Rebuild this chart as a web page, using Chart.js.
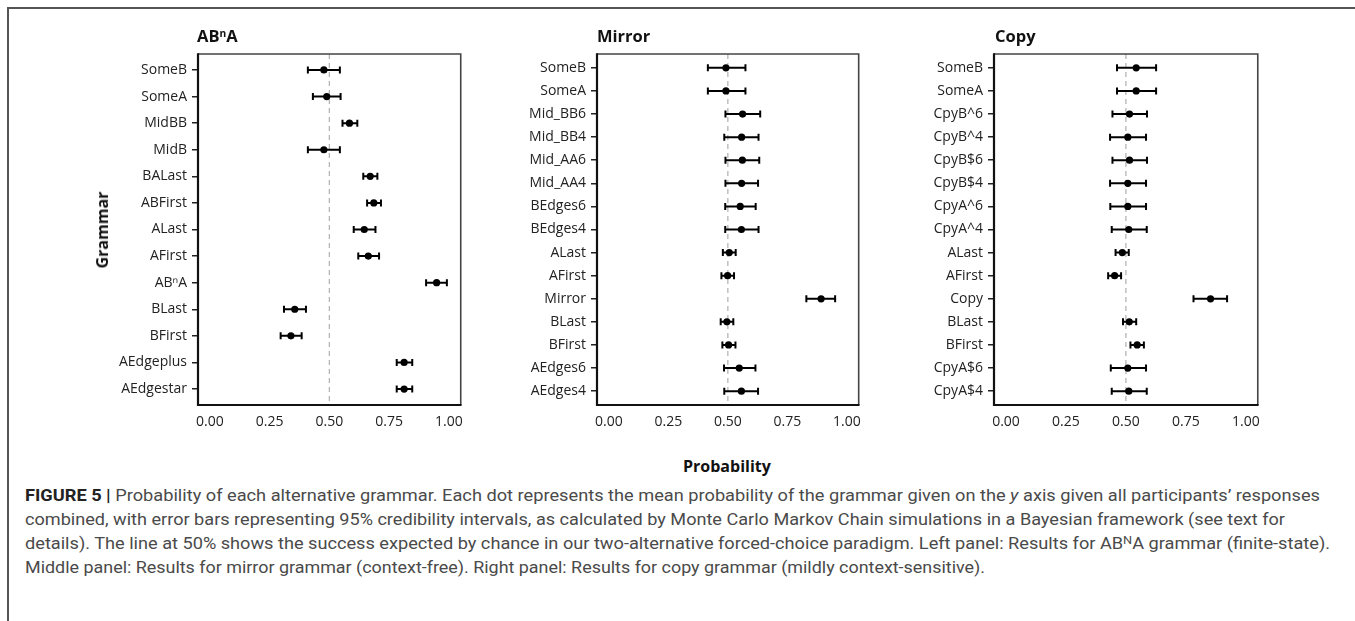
<!DOCTYPE html>
<html><head><meta charset="utf-8">
<script src="https://cdn.jsdelivr.net/npm/chart.js@4.4.0/dist/chart.umd.min.js"></script>
<style>
html,body{margin:0;padding:0;background:#fff;}
#wrap{position:relative;width:1355px;height:621px;overflow:hidden;background:#fff;}
canvas{position:absolute;}
.t{position:absolute;font-family:"Open Sans",sans-serif;font-weight:700;color:#111;white-space:nowrap;line-height:1;}
.t sup{font-size:0.62em;vertical-align:0.5em;line-height:0;}
.cap{position:absolute;left:25px;font-family:Roboto,"Liberation Sans",sans-serif;font-size:16px;line-height:24px;color:#4a4a4a;white-space:nowrap;transform-origin:0 0;}
.cap b{color:#222;font-weight:700;}
.cap sup{font-size:0.7em;vertical-align:0.45em;line-height:0;}
</style></head>
<body><div id="wrap">
<div style="position:absolute;left:7px;top:7px;width:1348px;height:2px;background:#555"></div>
<div style="position:absolute;left:7px;top:7px;width:2px;height:614px;background:#555"></div>

<canvas id="c1"></canvas>
<canvas id="c2"></canvas>
<canvas id="c3"></canvas>

<div class="t" style="left:197px;top:28px;font-size:16.5px;">AB<sup>n</sup>A</div>
<div class="t" style="left:597px;top:28px;font-size:16.5px;">Mirror</div>
<div class="t" style="left:995px;top:28px;font-size:16.5px;">Copy</div>
<div class="t" style="left:683px;top:458px;font-size:16px;">Probability</div>
<div class="t" id="gram" style="left:102px;top:230px;font-size:16px;transform:translate(-50%,-50%) rotate(-90deg);">Grammar</div>

<div class="cap" data-w="1295" style="top:484px;"><b>FIGURE 5 |</b> Probability of each alternative grammar. Each dot represents the mean probability of the grammar given on the <i>y</i> axis given all participants’ responses</div>
<div class="cap" data-w="1260" style="top:508px;">combined, with error bars representing 95% credibility intervals, as calculated by Monte Carlo Markov Chain simulations in a Bayesian framework (see text for</div>
<div class="cap" data-w="1305" style="top:532px;">details). The line at 50% shows the success expected by chance in our two-alternative forced-choice paradigm. Left panel: Results for AB<sup>N</sup>A grammar (finite-state).</div>
<div class="cap" data-w="960" style="top:556px;">Middle panel: Results for mirror grammar (context-free). Right panel: Results for copy grammar (mildly context-sensitive).</div>
</div>

<script>
// ---------- DATA ----------
const xTickValues = [0, 0.25, 0.5, 0.75, 1];
const chanceLevel = 0.5;

const abnaCategories = ["SomeB","SomeA","MidBB","MidB","BALast","ABFirst","ALast","AFirst","AB\u207FA","BLast","BFirst","AEdgeplus","AEdgestar"];
const abnaMean = [0.477,0.489,0.584,0.477,0.671,0.686,0.646,0.663,0.949,0.355,0.339,0.813,0.813];
const abnaLow  = [0.410,0.431,0.555,0.410,0.642,0.658,0.602,0.621,0.905,0.310,0.296,0.782,0.782];
const abnaHigh = [0.544,0.547,0.617,0.544,0.701,0.716,0.693,0.708,0.992,0.402,0.384,0.847,0.847];

const mirrorCategories = ["SomeB","SomeA","Mid_BB6","Mid_BB4","Mid_AA6","Mid_AA4","BEdges6","BEdges4","ALast","AFirst","Mirror","BLast","BFirst","AEdges6","AEdges4"];
const mirrorMean = [0.492,0.492,0.562,0.558,0.561,0.558,0.552,0.557,0.506,0.499,0.892,0.496,0.503,0.548,0.557];
const mirrorLow  = [0.416,0.416,0.490,0.485,0.490,0.490,0.489,0.489,0.479,0.473,0.830,0.470,0.477,0.484,0.485];
const mirrorHigh = [0.574,0.574,0.636,0.629,0.632,0.627,0.617,0.629,0.533,0.526,0.951,0.523,0.532,0.616,0.627];

const copyCategories = ["SomeB","SomeA","CpyB^6","CpyB^4","CpyB$6","CpyB$4","CpyA^6","CpyA^4","ALast","AFirst","Copy","BLast","BFirst","CpyA$6","CpyA$4"];
const copyMean = [0.543,0.543,0.515,0.508,0.515,0.508,0.508,0.512,0.485,0.453,0.853,0.514,0.547,0.508,0.512];
const copyLow  = [0.463,0.463,0.444,0.434,0.444,0.434,0.435,0.441,0.457,0.426,0.782,0.488,0.519,0.437,0.441];
const copyHigh = [0.626,0.626,0.588,0.584,0.588,0.584,0.584,0.587,0.512,0.480,0.922,0.543,0.575,0.584,0.587];

// ---------- RENDER ----------
const decorPlugin = {
  id: 'decor',
  beforeDatasetsDraw(chart) {
    const {ctx, chartArea: a, scales: {x, y}} = chart;
    const px = x.getPixelForValue(chanceLevel);
    ctx.save();
    ctx.strokeStyle = '#b5b5b5'; ctx.lineWidth = 1.3; ctx.setLineDash([5, 4]);
    ctx.beginPath(); ctx.moveTo(px, a.top); ctx.lineTo(px, a.bottom); ctx.stroke();
    ctx.setLineDash([]);
    ctx.strokeStyle = '#000'; ctx.lineWidth = 2;
    chart.data.datasets[0].data.forEach(p => {
      const yy = y.getPixelForValue(p.y);
      const x1 = x.getPixelForValue(p.lo), x2 = x.getPixelForValue(p.hi);
      ctx.beginPath();
      ctx.moveTo(x1, yy); ctx.lineTo(x2, yy);
      ctx.moveTo(x1, yy - 3.5); ctx.lineTo(x1, yy + 3.5);
      ctx.moveTo(x2, yy - 3.5); ctx.lineTo(x2, yy + 3.5);
      ctx.stroke();
    });
    ctx.restore();
  },
  afterDraw(chart) {
    const {ctx, chartArea: a} = chart;
    ctx.save();
    ctx.strokeStyle = '#444'; ctx.lineWidth = 1.6;
    ctx.beginPath(); ctx.moveTo(a.left, a.top); ctx.lineTo(a.right, a.top); ctx.lineTo(a.right, a.bottom); ctx.stroke();
    ctx.strokeStyle = '#111'; ctx.lineWidth = 2.2;
    ctx.beginPath(); ctx.moveTo(a.left, a.top - 0.8); ctx.lineTo(a.left, a.bottom); ctx.lineTo(a.right + 0.8, a.bottom); ctx.stroke();
    ctx.restore();
  }
};

function makePanel(id, cats, mean, low, high, boxLeft, boxWidth) {
  const yAxisW = 110, rightPad = 8, H = 440, xAxisH = 35, topPad = 54;
  const cv = document.getElementById(id);
  cv.width = yAxisW + boxWidth + rightPad; cv.height = H;
  cv.style.left = (boxLeft - yAxisW) + 'px'; cv.style.top = '0px';
  const pts = cats.map((c, i) => ({x: mean[i], y: i, lo: low[i], hi: high[i]}));
  const tickFont = {family: '"Open Sans", sans-serif', size: 14};
  new Chart(cv, {
    type: 'scatter',
    data: {datasets: [{data: pts, backgroundColor: '#000', borderColor: '#000', pointRadius: 3.6, pointHoverRadius: 3.6, borderWidth: 0}]},
    options: {
      responsive: false, animation: false, devicePixelRatio: 1,
      layout: {padding: {top: topPad, right: rightPad, left: 0, bottom: 0}},
      plugins: {legend: {display: false}, tooltip: {enabled: false}},
      scales: {
        x: {
          type: 'linear', min: -0.05, max: 1.05,
          afterBuildTicks: s => { s.ticks = xTickValues.map(v => ({value: v})); },
          afterFit: s => { s.height = xAxisH; },
          grid: {display: false, drawTicks: false},
          border: {display: false},
          ticks: {padding: 9, color: '#222', font: tickFont, callback: v => Number(v).toFixed(2), maxRotation: 0}
        },
        y: {
          type: 'linear', reverse: true, min: -0.6, max: cats.length - 0.4,
          afterBuildTicks: s => { s.ticks = cats.map((c, i) => ({value: i})); },
          afterFit: s => { s.width = yAxisW; },
          grid: {display: true, drawOnChartArea: false, drawTicks: true, tickLength: 6, color: '#222', lineWidth: 1.5},
          border: {display: false},
          ticks: {padding: 5, color: '#222', font: tickFont, callback: v => cats[v], autoSkip: false}
        }
      }
    },
    plugins: [decorPlugin]
  });
}

makePanel('c1', abnaCategories, abnaMean, abnaLow, abnaHigh, 198, 266);
makePanel('c2', mirrorCategories, mirrorMean, mirrorLow, mirrorHigh, 597, 265);
makePanel('c3', copyCategories, copyMean, copyLow, copyHigh, 994, 267);

// fit caption lines to the widths in the reference
document.querySelectorAll('.cap').forEach(el => {
  const target = parseFloat(el.dataset.w);
  const w = el.getBoundingClientRect().width;
  if (w > 0) el.style.transform = 'scaleX(' + (target / w) + ')';
});
</script>
</body></html>
